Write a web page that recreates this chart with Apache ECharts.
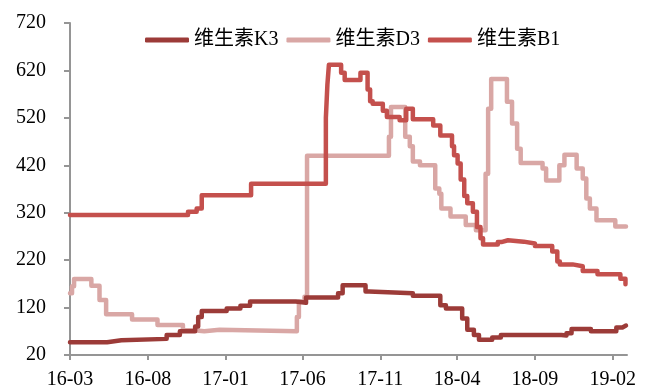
<!DOCTYPE html>
<html><head><meta charset="utf-8">
<script src="https://cdn.jsdelivr.net/npm/echarts@6/dist/echarts.min.js"></script>
<style>html,body{margin:0;padding:0;background:#fff}#c{width:651px;height:390px}</style>
</head><body><div id="c"></div>
<script>
// ---- data (change points: value holds from the date onward) ----
const seriesNames = ['维生素K3', '维生素D3', '维生素B1'];
const xTickMonths = ['2016-03','2016-08','2017-01','2017-06','2017-11','2018-04','2018-09','2019-02'];
const xMin = '2016-03-01', xMax = '2019-03-01', dataEnd = '2019-02-27';
const yMin = 20, yMax = 720, yStep = 100;

const k3Dates = ['2016-03-01','2016-05-13','2016-06-10','2016-09-07','2016-10-03','2016-11-02','2016-11-08','2016-11-15','2017-01-03','2017-01-30','2017-02-18','2017-05-19','2017-06-08','2017-08-10','2017-08-19','2017-10-03','2017-10-10','2018-01-04','2018-02-27','2018-03-10','2018-04-11','2018-04-21','2018-05-04','2018-05-14','2018-06-09','2018-06-26','2018-10-23','2018-11-02','2018-11-12','2018-12-20','2019-02-08','2019-02-20'];
const k3Values = [47,51,54,62,70,80,100,113,118,124,133,130,141,150,167,154,150,145,125,118,97,73,62,52,57,62,61,66,75,70,78,82];

const d3Dates = ['2016-03-01','2016-03-05','2016-03-09','2016-04-12','2016-04-28','2016-05-11','2016-07-01','2016-08-20','2016-10-09','2016-10-30','2016-11-20','2016-12-20','2017-05-21','2017-05-25','2017-06-05','2017-06-10','2017-11-18','2017-11-22','2017-12-20','2017-12-29','2018-01-04','2018-01-18','2018-02-17','2018-02-25','2018-03-01','2018-03-19','2018-04-18','2018-05-08','2018-05-27','2018-06-01','2018-06-07','2018-07-08','2018-07-18','2018-07-28','2018-08-04','2018-09-16','2018-09-23','2018-10-19','2018-10-29','2018-11-22','2018-12-04','2018-12-11','2018-12-18','2018-12-31','2019-02-06'];
const d3Values = [150,165,180,166,136,106,95,83,72,70,73,70,100,133,143,440,480,543,480,460,428,420,371,360,329,312,294,283,402,539,602,554,508,455,425,413,388,420,442,413,392,350,329,304,291];

const b1Dates = ['2016-03-01','2016-10-19','2016-11-05','2016-11-15','2017-02-20','2017-07-17','2017-07-20','2017-07-23','2017-08-16','2017-08-23','2017-09-23','2017-10-07','2017-10-12','2017-10-17','2017-11-06','2017-11-14','2017-12-09','2017-12-22','2018-01-04','2018-02-13','2018-02-27','2018-03-22','2018-03-26','2018-04-02','2018-04-08','2018-04-15','2018-04-21','2018-05-02','2018-05-10','2018-05-17','2018-05-22','2018-06-20','2018-06-27','2018-07-10','2018-08-10','2018-09-01','2018-10-05','2018-10-15','2018-10-20','2018-11-14','2018-12-04','2019-01-02','2019-02-16','2019-02-26'];
const b1Values = [315,322,329,357,381,520,590,632,615,600,615,580,555,550,535,522,515,539,517,504,483,460,441,424,390,355,340,322,290,266,253,258,262,259,255,250,238,217,211,207,197,190,181,169];

const colors = ['#9C3B38', '#D9A7A5', '#C4504D'];

const day = s => { const [y, m, d] = s.split('-').map(Number); return Date.UTC(y, m - 1, d || 1); };
function pairs(dates, values) {
  const out = dates.map((d, i) => [day(d), values[i]]);
  out.push([day(dataEnd), values[values.length - 1]]);
  return out;
}
const fmt = v => { const d = new Date(v); return String(d.getUTCFullYear()).slice(2) + '-' + String(d.getUTCMonth() + 1).padStart(2, '0'); };

const font = '"Liberation Serif", "Noto Sans CJK SC", serif';
const chart = echarts.init(document.getElementById('c'), null, {renderer: 'canvas'});
const allData = [pairs(k3Dates, k3Values), pairs(d3Dates, d3Values), pairs(b1Dates, b1Values)];
const tickVals = xTickMonths.map(day);
const axisGray = '#959595';
chart.setOption({
  animation: false,
  color: colors,
  textStyle: {fontFamily: font},
  legend: {
    top: 25, left: 140,
    itemWidth: 44, itemHeight: 5, itemGap: 8,
    textStyle: {fontFamily: font, fontSize: 20, color: '#000'},
    data: seriesNames.map(n => ({name: n, icon: 'roundRect'}))
  },
  grid: {left: 70, right: 24, top: 23, bottom: 32, containLabel: false},
  xAxis: {
    type: 'value',
    min: day(xMin), max: day(xMax),
    axisLine: {lineStyle: {color: axisGray, width: 2}},
    axisTick: {show: true, length: 5, lineStyle: {color: axisGray, width: 2}, customValues: tickVals},
    axisLabel: {customValues: tickVals, formatter: fmt, fontFamily: font, fontSize: 20, color: '#000', margin: 15, hideOverlap: false},
    splitLine: {show: false}
  },
  yAxis: {
    type: 'value', min: yMin, max: yMax, interval: yStep,
    axisLine: {show: true, lineStyle: {color: axisGray, width: 2}},
    axisTick: {show: true, length: 6, lineStyle: {color: axisGray, width: 2}},
    axisLabel: {fontFamily: font, fontSize: 20, color: '#000', margin: 24},
    splitLine: {show: false}
  },
  series: seriesNames.map((n, i) => ({
    name: n, type: 'line', step: 'end', symbol: 'none', showSymbol: false,
    data: allData[i],
    lineStyle: {width: 4.5, color: colors[i], cap: 'round', join: 'round'},
    itemStyle: {color: colors[i]},
    z: i === 1 ? 2 : (i === 2 ? 3 : 4)
  }))
});
</script></body></html>
